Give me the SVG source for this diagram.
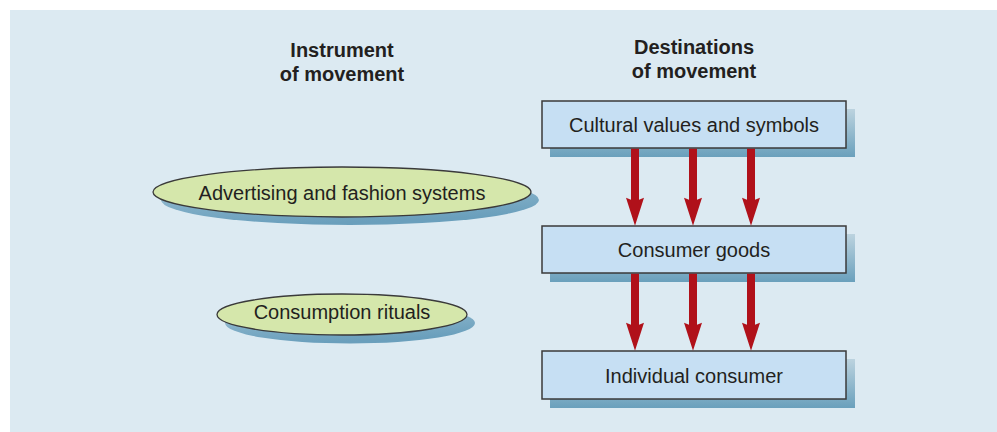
<svg xmlns="http://www.w3.org/2000/svg" width="997" height="432" viewBox="0 0 997 432">
  <defs>
    <linearGradient id="shadowG" x1="0" y1="0" x2="0" y2="1">
      <stop offset="0" stop-color="#bcd3df"/>
      <stop offset="1" stop-color="#6aa0bc"/>
    </linearGradient>
    <linearGradient id="shadowE" x1="0" y1="0" x2="0.3" y2="1">
      <stop offset="0" stop-color="#c4d9e4"/>
      <stop offset="0.6" stop-color="#7fadc6"/>
      <stop offset="1" stop-color="#6a9fbc"/>
    </linearGradient>
    <path id="arrow" d="M-4,0 L4,0 L4,51 L9,49 L0,77 L-9,49 L-4,51 Z" fill="#b0111a"/>
  </defs>
  <style>
    .box { fill: #c6dff3; stroke: #3a3a3a; stroke-width: 1.5; }
    .ell { fill: #d5e7ab; stroke: #3a3a3a; stroke-width: 1.3; }
    .lbl { font-family: "Liberation Sans", Arial, sans-serif; font-size: 20px; fill: #231f20; text-anchor: middle; }
    .head { font-family: "Liberation Sans", Arial, sans-serif; font-size: 20px; font-weight: bold; fill: #231f20; text-anchor: middle; }
  </style>
  <rect x="10" y="10" width="987" height="422" fill="#dceaf2"/>

  <g id="headings">
    <text class="head" x="342" y="57">Instrument</text>
    <text class="head" x="342" y="81">of movement</text>
    <text class="head" x="694" y="54">Destinations</text>
    <text class="head" x="694" y="78">of movement</text>
  </g>

  <g id="advertising">
    <ellipse cx="350" cy="200" rx="189" ry="25" fill="url(#shadowE)"/>
    <ellipse class="ell" cx="342" cy="192" rx="189" ry="25"/>
    <text class="lbl" x="342" y="200">Advertising and fashion systems</text>
  </g>

  <g id="rituals">
    <ellipse cx="350" cy="323" rx="125" ry="20.5" fill="url(#shadowE)"/>
    <ellipse class="ell" cx="342" cy="314.5" rx="125" ry="20.5"/>
    <text class="lbl" x="342" y="319">Consumption rituals</text>
  </g>

  <g id="cultural">
    <rect x="550" y="109" width="305" height="48" fill="url(#shadowG)"/>
    <rect class="box" x="542" y="101" width="304" height="47"/>
    <text class="lbl" x="694" y="132">Cultural values and symbols</text>
  </g>

  <g id="goods">
    <rect x="550" y="234" width="305" height="48" fill="url(#shadowG)"/>
    <rect class="box" x="542" y="226" width="304" height="47"/>
    <text class="lbl" x="694" y="257">Consumer goods</text>
  </g>

  <g id="individual">
    <rect x="550" y="359" width="305" height="49" fill="url(#shadowG)"/>
    <rect class="box" x="542" y="351" width="304" height="48"/>
    <text class="lbl" x="694" y="383">Individual consumer</text>
  </g>

  <g id="connectors">
    <use href="#arrow" x="635" y="148.8"/>
    <use href="#arrow" x="693" y="148.8"/>
    <use href="#arrow" x="751" y="148.8"/>
    <use href="#arrow" x="635" y="273.8"/>
    <use href="#arrow" x="693" y="273.8"/>
    <use href="#arrow" x="751" y="273.8"/>
  </g>
</svg>
